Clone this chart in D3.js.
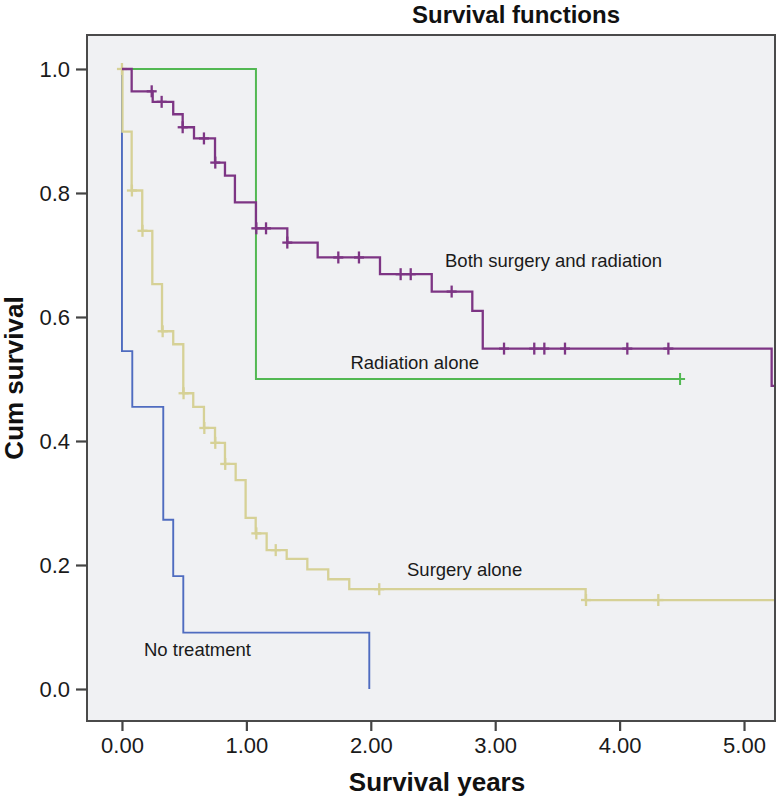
<!DOCTYPE html>
<html>
<head>
<meta charset="utf-8">
<script src="https://cdn.jsdelivr.net/npm/d3@7/dist/d3.min.js"></script>
<style>
  html, body { margin: 0; padding: 0; background: #ffffff; }
  svg { display: block; }
  text { font-family: "Liberation Sans", Arial, sans-serif; }
</style>
</head>
<body>
<svg id="chart" width="782" height="800"></svg>
<script>
// ---------- data ----------
const xTicks = [0, 1, 2, 3, 4, 5];
const yTicks = [0.0, 0.2, 0.4, 0.6, 0.8, 1.0];

const bothTimes = [0, 0.078, 0.247, 0.412, 0.488, 0.579, 0.748, 0.828, 0.908, 1.077, 1.329, 1.573, 2.074, 2.490, 2.816, 2.900, 5.222];
const bothSurv  = [1.0, 0.964, 0.947, 0.927, 0.906, 0.888, 0.849, 0.828, 0.785, 0.743, 0.720, 0.696, 0.669, 0.641, 0.610, 0.549, 0.489];
const bothEnd = 5.26;
const bothCensor = [0.239, 0.319, 0.488, 0.659, 0.75, 1.08, 1.158, 1.329, 1.739, 1.905, 2.240, 2.321, 2.650, 3.071, 3.314, 3.395, 3.561, 4.062, 4.392];

const radTimes = [0, 1.077];
const radSurv  = [1.0, 0.5];
const radEnd = 4.486;
const radCensor = [4.486];

const surgTimes = [0, 0.004, 0.078, 0.163, 0.244, 0.322, 0.412, 0.493, 0.573, 0.659, 0.748, 0.828, 0.914, 0.994, 1.075, 1.163, 1.324, 1.490, 1.658, 1.827, 3.727];
const surgSurv  = [1.0, 0.899, 0.804, 0.739, 0.653, 0.577, 0.556, 0.477, 0.455, 0.421, 0.397, 0.363, 0.337, 0.276, 0.251, 0.224, 0.210, 0.193, 0.177, 0.161, 0.1435];
const surgEnd = 5.26;
const surgCensor = [0.0, 0.08, 0.165, 0.327, 0.495, 0.662, 0.75, 0.83, 1.08, 1.236, 2.068, 3.73, 4.311];

const noneTimes = [0, 0, 0.083, 0.332, 0.412, 0.493, 1.988];
const noneSurv  = [1.0, 0.545, 0.455, 0.273, 0.182, 0.091, 0.0];
const noneEnd = 1.988;
const noneCensor = [];

const groupNames = ["Radiation alone", "No treatment", "Surgery alone", "Both surgery and radiation"];

// ---------- layout ----------
const svg = d3.select("#chart");
const frame = { left: 87, right: 775, top: 35, bottom: 721 };

const x = d3.scaleLinear().domain([-0.281, 5.249]).range([frame.left, frame.right]);
const y = d3.scaleLinear().domain([-0.0516, 1.0548]).range([frame.bottom, frame.top]);

svg.append("defs").append("clipPath").attr("id", "plotclip")
  .append("rect")
  .attr("x", frame.left).attr("y", frame.top)
  .attr("width", frame.right - frame.left).attr("height", frame.bottom - frame.top);

// plot background
svg.append("rect")
  .attr("x", frame.left).attr("y", frame.top)
  .attr("width", frame.right - frame.left).attr("height", frame.bottom - frame.top)
  .attr("fill", "#f0f1f3");

// ---------- series ----------
const groups = [
  { name: groupNames[0], times: radTimes,  surv: radSurv,  end: radEnd,  censor: radCensor,  color: "#52b852", width: 2.0 },
  { name: groupNames[1], times: noneTimes, surv: noneSurv, end: noneEnd, censor: noneCensor, color: "#4f6cc0", width: 1.9 },
  { name: groupNames[2], times: surgTimes, surv: surgSurv, end: surgEnd, censor: surgCensor, color: "#d6d196", width: 2.3 },
  { name: groupNames[3], times: bothTimes, surv: bothSurv, end: bothEnd, censor: bothCensor, color: "#7d3584", width: 2.3 }
];

const line = d3.line().x(d => x(d[0])).y(d => y(d[1])).curve(d3.curveStepAfter);

const plot = svg.append("g").attr("clip-path", "url(#plotclip)");

function survAt(g, t) {
  let v = g.surv[0];
  for (let i = 0; i < g.times.length; i++) { if (g.times[i] <= t) v = g.surv[i]; }
  return v;
}

groups.forEach(g => {
  const pts = g.times.map((t, i) => [t, g.surv[i]]);
  pts.push([g.end, g.surv[g.surv.length - 1]]);
  plot.append("path")
    .attr("d", line(pts))
    .attr("fill", "none")
    .attr("stroke", g.color)
    .attr("stroke-width", g.width)
    .attr("stroke-linejoin", "miter");
  const cg = plot.append("g");
  g.censor.forEach(c => {
    const cx = x(c), cy = y(survAt(g, c));
    cg.append("line").attr("x1", cx).attr("x2", cx).attr("y1", cy - 6).attr("y2", cy + 6)
      .attr("stroke", g.color).attr("stroke-width", g.width);
    cg.append("line").attr("x1", cx - 5).attr("x2", cx + 5).attr("y1", cy).attr("y2", cy)
      .attr("stroke", g.color).attr("stroke-width", g.width);
  });
});

// frame
svg.append("rect")
  .attr("x", frame.left).attr("y", frame.top)
  .attr("width", frame.right - frame.left).attr("height", frame.bottom - frame.top)
  .attr("fill", "none").attr("stroke", "#4a4a4a").attr("stroke-width", 2);

// ---------- axes ----------
const xAxis = d3.axisBottom(x).tickValues(xTicks).tickFormat(d3.format(".2f")).tickSize(10).tickPadding(6).tickSizeOuter(0);
const gx = svg.append("g").attr("transform", `translate(0,${frame.bottom})`).call(xAxis);
gx.select(".domain").remove();
gx.selectAll(".tick line").attr("stroke", "#444").attr("stroke-width", 2.2);
gx.selectAll(".tick text").attr("font-size", 22).attr("fill", "#1a1a1a")
  .attr("font-family", "'Liberation Sans', Arial, sans-serif");

const yAxis = d3.axisLeft(y).tickValues(yTicks).tickFormat(d3.format(".1f")).tickSize(11).tickPadding(6).tickSizeOuter(0);
const gy = svg.append("g").attr("transform", `translate(${frame.left},0)`).call(yAxis);
gy.select(".domain").remove();
gy.selectAll(".tick line").attr("stroke", "#444").attr("stroke-width", 2.2);
gy.selectAll(".tick text").attr("font-size", 22).attr("fill", "#1a1a1a")
  .attr("font-family", "'Liberation Sans', Arial, sans-serif");

// ---------- titles ----------
svg.append("text").attr("x", 516).attr("y", 23).attr("text-anchor", "middle")
  .attr("font-size", 24).attr("font-weight", "bold").attr("fill", "#111")
  .text("Survival functions");

svg.append("text").attr("x", 437).attr("y", 791).attr("text-anchor", "middle")
  .attr("font-size", 26).attr("font-weight", "bold").attr("fill", "#111")
  .text("Survival years");

svg.append("text").attr("transform", "translate(23,378) rotate(-90)").attr("text-anchor", "middle")
  .attr("font-size", 26).attr("font-weight", "bold").attr("fill", "#111")
  .text("Cum survival");

// ---------- curve labels ----------
const labels = [
  { text: groupNames[3], x: 445, y: 267, anchor: "start" },
  { text: groupNames[0], x: 479, y: 369, anchor: "end" },
  { text: groupNames[2], x: 407, y: 576, anchor: "start" },
  { text: groupNames[1], x: 144, y: 656, anchor: "start" }
];
svg.append("g").selectAll("text").data(labels).join("text")
  .attr("x", d => d.x).attr("y", d => d.y).attr("text-anchor", d => d.anchor)
  .attr("font-size", 18.5).attr("fill", "#1a1a1a")
  .text(d => d.text);
</script>
</body>
</html>
